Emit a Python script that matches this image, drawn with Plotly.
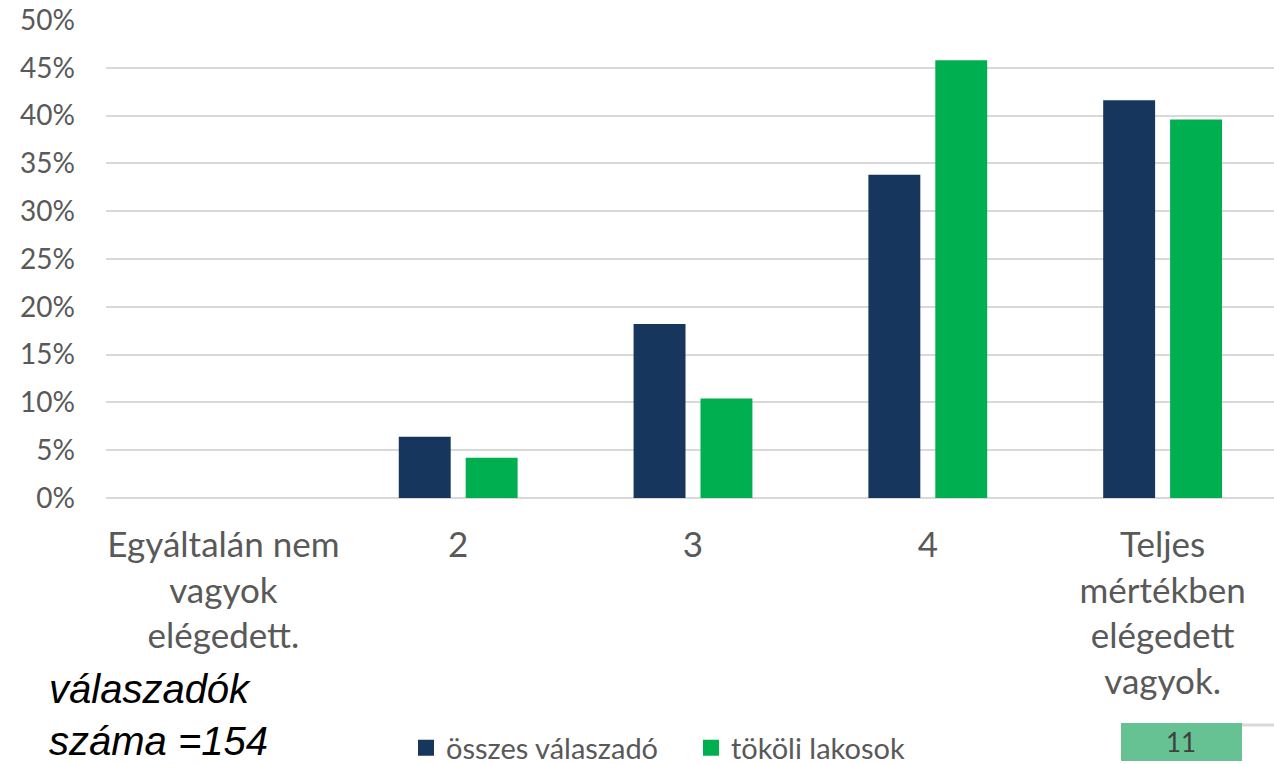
import plotly.graph_objects as go

categories = ["Egyáltalán nem<br>vagyok<br>elégedett.", "2", "3", "4",
              "Teljes<br>mértékben<br>elégedett<br>vagyok."]
osszes = [0.0, 0.064, 0.182, 0.338, 0.416]
tokoli = [0.0, 0.042, 0.104, 0.458, 0.396]
series_names = ["összes válaszadó", "tököli lakosok"]
colors = ["#17365D", "#00B050"]
y_ticks = [0, 0.05, 0.10, 0.15, 0.20, 0.25, 0.30, 0.35, 0.40, 0.45, 0.50]

W, H = 1280, 764
L, R, T, B = 106, 0, 20, 266
pw, ph = W - L - R, H - T - B

def px(x):
    return (x - L) / pw

def py(y):
    return (H - B - y) / ph

fig = go.Figure()
for name, vals, col in zip(series_names, [osszes, tokoli], colors):
    fig.add_bar(x=categories, y=vals, name=name, marker_color=col,
                marker_line_width=0, showlegend=False, legendgroup=name)
for name, col in zip(series_names, colors):
    fig.add_scatter(x=[None], y=[None], mode="markers", name=name,
                    legendgroup=name,
                    marker=dict(symbol="square", size=18, color=col))

fig.update_layout(
    width=W, height=H,
    margin=dict(l=L, r=R, t=T, b=B, autoexpand=False),
    paper_bgcolor="white", plot_bgcolor="white",
    barmode="group", bargap=0.43, bargroupgap=0.224,
    font=dict(family="Lato", color="#595959"),
    showlegend=True,
    legend=dict(orientation="h", xref="container", yref="container",
                x=406 / W, y=16 / H, xanchor="left", yanchor="middle",
                font=dict(size=29, color="#595959", family="Lato"),
                itemwidth=30, tracegroupgap=0, entrywidth=240,
                entrywidthmode="pixels", itemsizing="trace",
                bgcolor="rgba(0,0,0,0)"),
    xaxis=dict(tickfont=dict(size=35, color="#595959"), showgrid=False,
               showline=False, ticks="", ticklabelstandoff=23),
    yaxis=dict(range=[0, 0.5], tickvals=y_ticks, tickformat=".0%",
               tickfont=dict(size=28, color="#595959"),
               showgrid=True, gridcolor="#D9D9D9", gridwidth=1.5,
               zeroline=True, zerolinecolor="#D9D9D9", zerolinewidth=1.5,
               showline=False, ticks="", ticklabelstandoff=30),
    shapes=[
        dict(type="rect", xref="paper", yref="paper",
             x0=px(1121), x1=px(1242), y0=py(761), y1=py(723),
             fillcolor="#66C293", line_width=0, layer="above"),
        dict(type="line", xref="paper", yref="paper",
             x0=px(1242), x1=px(1274), y0=py(725), y1=py(725),
             line=dict(color="#D9D9D9", width=3)),
    ],
    annotations=[
        dict(text="11", xref="paper", yref="paper", x=px(1181), y=py(742),
             showarrow=False, xanchor="center", yanchor="middle",
             font=dict(size=26, color="#404040", family="Lato")),
        dict(text="<i>válaszadók<br>száma =154</i>", xref="paper", yref="paper",
             x=px(48), y=py(764), showarrow=False, xanchor="left",
             yanchor="bottom", align="left", borderpad=0,
             font=dict(size=40, color="black", family="Liberation Sans")),
    ],
)

fig.write_html("out.html", config={"displayModeBar": False},
               post_script="document.body.style.margin='0';document.body.style.overflow='hidden';")
